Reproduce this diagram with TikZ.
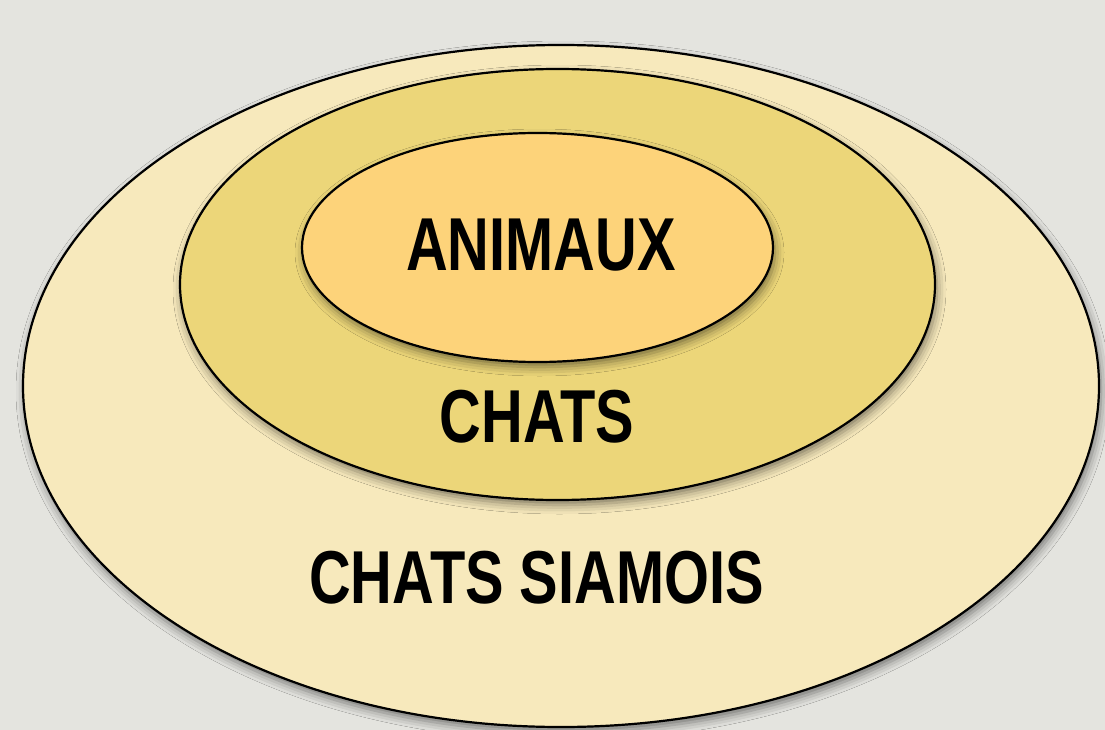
\documentclass[tikz,border=0pt]{standalone}
\usepackage{fontspec}
\newfontfamily\labelfont[FakeStretch=0.77]{Liberation Sans}
\usetikzlibrary{shapes.geometric,shadows.blur}
\definecolor{paper}{RGB}{228,228,223}
\definecolor{outerfill}{RGB}{247,233,188}
\definecolor{midfill}{RGB}{236,214,121}
\definecolor{innerfill}{RGB}{253,211,122}
\tikzset{
  setring/.style={ellipse, draw=black, line width=2.2pt, inner sep=0pt,
    blur shadow={shadow xshift=2pt, shadow yshift=-5pt,
      shadow blur radius=9pt, shadow opacity=50}},
  setlabel/.style={font=\labelfont\bfseries\fontsize{75}{75}\selectfont,
    text=black, inner sep=0pt, anchor=center}
}
\begin{document}
\begin{tikzpicture}[x=1pt,y=-1pt]
  % page background
  \fill[paper] (0,0) rectangle (1105,730);
  \useasboundingbox (0,0) rectangle (1105,730);
  % nested sets
  \node[setring, fill=outerfill, minimum width=1076pt, minimum height=682pt]
    (outer) at (561,386) {};
  \node[setring, fill=midfill, minimum width=755pt, minimum height=431pt]
    (middle) at (557.5,284.5) {};
  \node[setring, fill=innerfill, minimum width=471pt, minimum height=229pt]
    (inner) at (537.5,247.5) {};
  % set names
  \node[setlabel] (animaux) at (541,245) {ANIMAUX};
  \node[setlabel] (chats) at (537,417) {CHATS};
  \node[setlabel] (siamois) at (536.5,578) {CHATS SIAMOIS};
\end{tikzpicture}
\end{document}
